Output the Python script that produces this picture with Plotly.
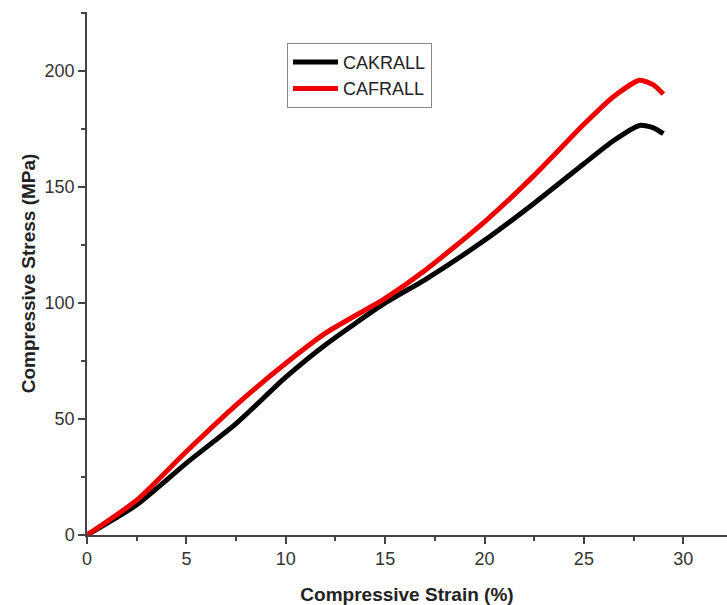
import plotly.graph_objects as go

strain = [0, 2.5, 5, 7.5, 10, 12, 15, 17, 20, 22.5, 25, 26.5, 27.8, 28.5, 29]
cakrall = [0, 13, 31, 48, 68, 82, 100, 110, 127, 143, 160, 170, 176.5, 175.5, 173]
cafrall = [0, 15, 36, 56, 74, 87, 102, 114, 135, 155, 177, 189, 196, 194, 190]

x_ticks = [0, 5, 10, 15, 20, 25, 30]
y_ticks = [0, 50, 100, 150, 200]

FONT = "Liberation Sans, Arial"

fig = go.Figure()
fig.add_trace(go.Scatter(x=strain, y=cakrall, mode="lines", name="CAKRALL",
                         line=dict(color="black", width=5, shape="spline", smoothing=0.6)))
fig.add_trace(go.Scatter(x=strain, y=cafrall, mode="lines", name="CAFRALL",
                         line=dict(color="#ee0000", width=5, shape="spline", smoothing=0.6)))

axis_common = dict(showgrid=False, zeroline=False, showline=True, linecolor="#444", linewidth=1.5,
                   ticks="outside", ticklen=7, tickwidth=1.5, tickcolor="#444", automargin=False,
                   tickfont=dict(family=FONT, size=18, color="#333"),
                   minor=dict(ticks="outside", ticklen=4, tickwidth=1.5, tickcolor="#444"))

fig.update_xaxes(range=[0, 32.2], tickvals=x_ticks, title=dict(text="<b>Compressive Strain (%)</b>",
                 font=dict(family=FONT, size=19, color="#222"), standoff=20),
                 minor_dtick=2.5, **axis_common)
fig.update_yaxes(range=[0, 225.4], tickvals=y_ticks, title=dict(text="<b>Compressive Stress (MPa)</b>",
                 font=dict(family=FONT, size=19, color="#222"), standoff=4),
                 minor_dtick=25, **axis_common)

fig.update_layout(width=727, height=605, margin=dict(l=87, r=0, t=12, b=70),
                  plot_bgcolor="white", paper_bgcolor="white",
                  legend=dict(x=0.3125, y=0.941, xanchor="left", yanchor="top",
                              bordercolor="#888", borderwidth=1, bgcolor="white",
                              font=dict(family=FONT, size=18, color="#222"),
                              tracegroupgap=0, itemwidth=45))

fig.write_html("out.html", config={"displayModeBar": False},
               post_script="document.body.style.margin='0';")
